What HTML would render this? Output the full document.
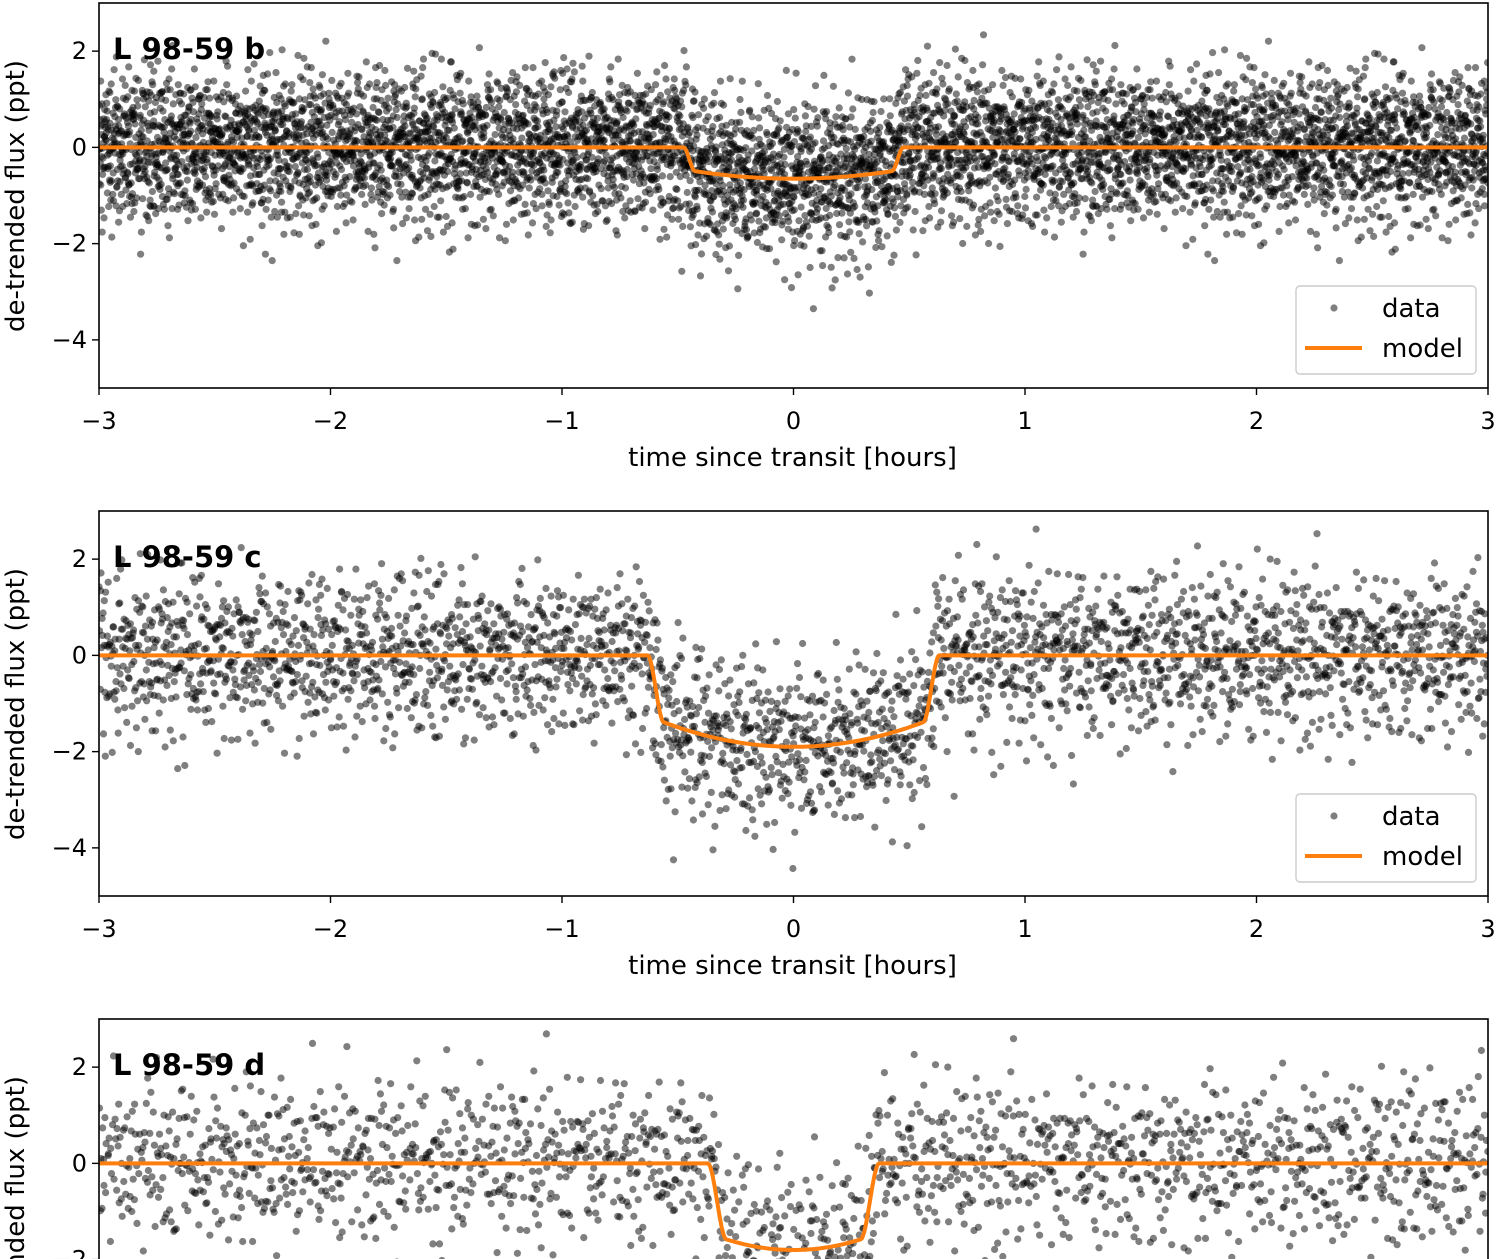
<!DOCTYPE html>
<html><head><meta charset="utf-8">
<style>
html,body{margin:0;padding:0;background:#fff;width:1499px;height:1259px;overflow:hidden}
svg{display:block;font-family:"DejaVu Sans","Liberation Sans",sans-serif}
</style></head>
<body>
<svg id="chart" width="1499" height="1259" viewBox="0 0 1499 1259" xmlns="http://www.w3.org/2000/svg" overflow="hidden"></svg>
<script>
// ---- data ----
const planetNames = ["L 98-59 b", "L 98-59 c", "L 98-59 d"];
const transitDepth = [0.65, 1.9, 1.8];        // ppt at mid-transit
const transitHalfWidth = [0.475, 0.63, 0.37];  // hours
const ingressWidth = [0.05, 0.07, 0.08];       // hours
const limbCurvature = [0.3, 0.34, 0.2];        // fractional depth drop at limb
const pointCount = [6400, 3000, 1800];
const noiseSigma = [0.74, 0.8, 0.82];
const xTicks = [-3, -2, -1, 0, 1, 2, 3];
const xTickLabels = ["\u22123", "\u22122", "\u22121", "0", "1", "2", "3"];
const yTicks = [2, 0, -2, -4];
const yTickLabels = ["2", "0", "\u22122", "\u22124"];
const residualsA = [0.3,-1.2,0.8,-0.4,1.5,0.1,-0.7,2.1,-0.2,0.6,-1.6,0.9,-0.1,0.4,-2.3,1.1,-0.5,0.2,-0.9,1.8,0.0,-1.3,0.7,-0.6,1.2,-0.3,0.5,-1.9,0.9,-0.8,0.2,1.4,-0.4,-1.1,0.6,2.6,-0.2,0.3,-0.7,1.0,-1.5,0.1,0.8,-0.3,-2.0,1.3,-0.6,0.4,-1.0,0.7,1.7,-0.1,-0.8,0.5,-1.4,0.2,1.1,-0.5,0.9,-2.7,0.3,-0.2,1.6,-0.9,0.6,-1.2,0.0,0.8,-0.4,1.9,-0.7,0.1,-1.7,1.0,-0.3,0.5,-0.6,1.3,-1.0,0.4,2.2,-0.5,-0.1,0.7,-1.3,0.2,-0.8,1.5,-0.2,0.6,-2.1,0.9,-0.4,0.3,-1.1,1.2,-0.6,0.0,0.8,-1.8,0.4];
const residualsB = [-0.5,1.1,0.2,-1.4,0.7,-0.1,1.6,-0.8,0.3,-2.2,0.9,0.0,-0.6,1.3,-1.0,0.5,2.0,-0.3,-1.2,0.8,-0.7,0.1,1.5,-1.7,0.4,-0.2,0.6,-0.9,1.0,-2.5,0.2,1.2,-0.4,0.7,-1.1,0.3,1.8,-0.6,-0.1,0.9,-1.5,0.5,-0.3];
const timeJitter = [0.2,-0.4,0.1,0.45,-0.15,-0.3,0.35,0.05,-0.45,0.25,-0.05,0.4,-0.25,0.15,-0.35,0.3,-0.1];

// ---- layout ----
const L = 99, R = 1488;
const panelTop = [3, 511, 1019];
const panelH = 385;
const yMin = -5, yMax = 3;
const NS = "http://www.w3.org/2000/svg";
const svg = document.getElementById('chart');
function mk(tag, attrs, parent){const e=document.createElementNS(NS,tag);for(const k in attrs)e.setAttribute(k,attrs[k]);(parent||svg).appendChild(e);return e;}
const xScale = t => L + (t + 3) / 6 * (R - L);

function model(p, t){
  const T = transitHalfWidth[p], w = ingressWidth[p], d = transitDepth[p], c = limbCurvature[p];
  const a = Math.abs(t);
  if (a >= T) return 0;
  const inner = T - w;
  const core = u => -d * (1 - c * Math.min(1, (u / T) * (u / T)));
  if (a <= inner) return core(a);
  const f = (T - a) / w;
  const s = f * f * (3 - 2 * f);
  return core(inner) * s;
}

panelTop.forEach((top, p) => {
  const yScale = v => top + (yMax - v) / (yMax - yMin) * panelH;
  const g = mk('g', {});
  
  
  const clipId = 'clip' + p;
  const cp = mk('clipPath', {id: clipId}, g);
  mk('rect', {x: L, y: top, width: R - L, height: panelH}, cp);

  const pts = mk('g', {'clip-path': 'url(#' + clipId + ')', fill: '#000', 'fill-opacity': 0.5}, g);
  
  
  const n = pointCount[p];
  for (let i = 0; i < n; i++) {
    const t = -3 + (i + 0.5 + timeJitter[(i * 7 + p) % timeJitter.length]) * 6 / n;
    const res = residualsA[(i + 31 * p) % residualsA.length] * 0.8 + residualsB[(i * 5 + p) % residualsB.length] * 0.6;
    const v = model(p, t) + noiseSigma[p] * res;
    const c = mk('circle', {cx: xScale(t).toFixed(1), cy: yScale(v).toFixed(1), r: 3.6}, pts);
    
    
  }

  let dstr = '';
  for (let k = 0; k <= 1200; k++) {
    const t = -3 + k * 6 / 1200;
    dstr += (k ? 'L' : 'M') + xScale(t).toFixed(1) + ',' + yScale(model(p, t)).toFixed(1);
  }
  const ml = mk('path', {d: dstr, fill: 'none', stroke: '#ff7f0e', 'stroke-width': 4, 'clip-path': 'url(#' + clipId + ')'}, g);
  
  

  const fr = mk('rect', {x: L, y: top, width: R - L, height: panelH, fill: 'none', stroke: '#000', 'stroke-width': 1.6}, g);
  
  

  yTicks.forEach((v, i) => {
    const y = yScale(v);
    mk('line', {x1: L - 7, x2: L, y1: y, y2: y, stroke: '#000', 'stroke-width': 1.4}, g);
    const tl = mk('text', {x: L - 12, y: y + 8, 'font-size': 24, 'text-anchor': 'end', fill: '#000'}, g);
    tl.textContent = yTickLabels[i];
    
    
  });
  const yl = mk('text', {x: 0, y: 0, 'font-size': 26, 'text-anchor': 'middle', fill: '#000', transform: 'translate(24,' + (top + 193) + ') rotate(-90)'}, g);
  yl.textContent = 'de-trended flux (ppt)';
  
  

  const bot = top + panelH;
  if (bot < 1259) {
    xTicks.forEach((v, i) => {
      const x = xScale(v);
      mk('line', {x1: x, x2: x, y1: bot, y2: bot + 7, stroke: '#000', 'stroke-width': 1.4}, g);
      const tl = mk('text', {x: x, y: bot + 41, 'font-size': 24, 'text-anchor': 'middle', fill: '#000'}, g);
      tl.textContent = xTickLabels[i];
      
      
    });
    const xl = mk('text', {x: (L + R) / 2 - 1, y: bot + 78, 'font-size': 26, 'text-anchor': 'middle', fill: '#000'}, g);
    xl.textContent = 'time since transit [hours]';
    
    
  }

  const tt = mk('text', {x: 113, y: top + 56, 'font-size': 29, 'font-weight': 'bold', fill: '#000'}, g);
  tt.textContent = planetNames[p];
  
  

  if (p < 2) {
    const lg = mk('g', {}, g);
    
    
    const ly = top + 283;
    mk('rect', {x: 1296, y: ly, width: 180, height: 88, rx: 4, fill: '#fff', 'fill-opacity': 0.85, stroke: '#ccc', 'stroke-width': 1.4}, lg);
    mk('circle', {cx: 1334, cy: ly + 22, r: 3.6, fill: '#000', 'fill-opacity': 0.5}, lg);
    const t1 = mk('text', {x: 1382, y: ly + 31, 'font-size': 26, fill: '#000'}, lg);
    t1.textContent = 'data';
    
    
    mk('line', {x1: 1305, x2: 1362, y1: ly + 62, y2: ly + 62, stroke: '#ff7f0e', 'stroke-width': 4}, lg);
    const t2 = mk('text', {x: 1382, y: ly + 71, 'font-size': 26, fill: '#000'}, lg);
    t2.textContent = 'model';
    
    
  }
});
</script>
</body></html>
